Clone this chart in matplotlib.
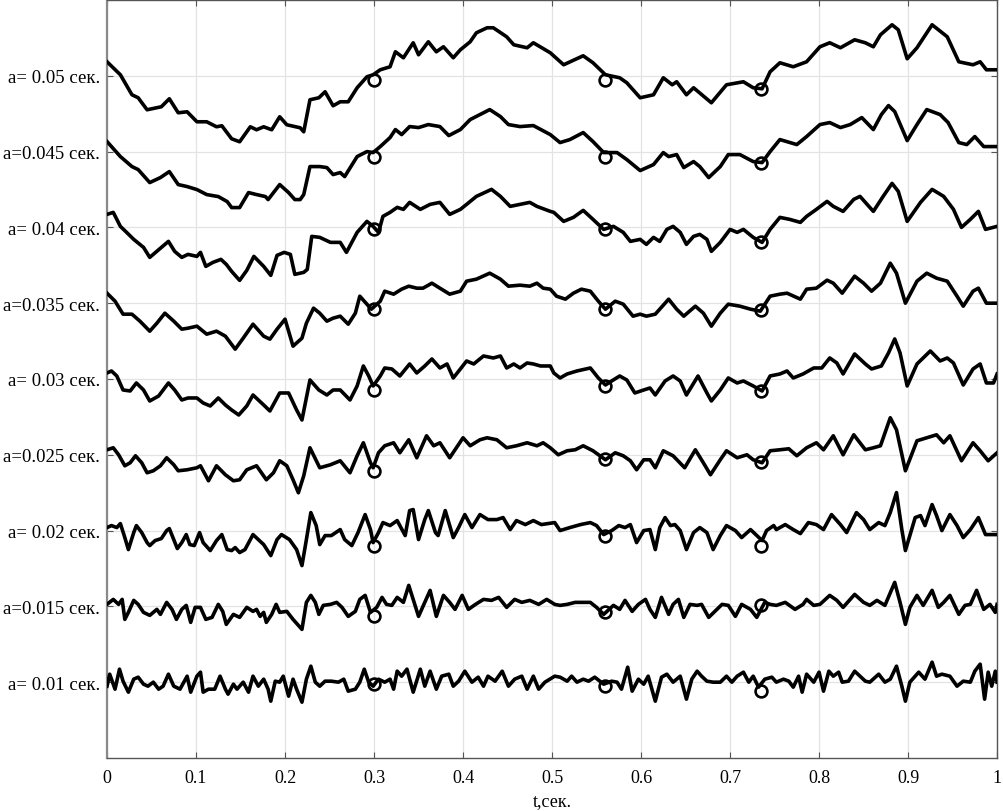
import numpy as np
import matplotlib.pyplot as plt

# Traces: time (s) and deflection from the trace baseline
# (amplitude units; 76 units = spacing between neighbouring traces)

t_005 = [0.0, 0.015, 0.028, 0.035, 0.045, 0.061, 0.070, 0.080, 0.090, 0.101,
         0.112, 0.123, 0.129, 0.140, 0.149, 0.161, 0.168, 0.176, 0.185, 0.194,
         0.202, 0.217, 0.221, 0.228, 0.238, 0.245, 0.254, 0.262, 0.271, 0.281,
         0.292, 0.299, 0.307, 0.318, 0.324, 0.333, 0.344, 0.350, 0.361, 0.370,
         0.378, 0.389, 0.397, 0.408, 0.415, 0.427, 0.434, 0.449, 0.457, 0.472,
         0.479, 0.498, 0.513, 0.535, 0.546, 0.560, 0.576, 0.584, 0.599, 0.614,
         0.625, 0.635, 0.640, 0.651, 0.659, 0.679, 0.696, 0.715, 0.726, 0.736,
         0.745, 0.756, 0.771, 0.786, 0.801, 0.812, 0.824, 0.840, 0.852, 0.861,
         0.869, 0.882, 0.889, 0.899, 0.910, 0.927, 0.944, 0.957, 0.973, 0.981,
         0.988, 1.0]
v_005 = [14, 1, -19, -22, -34, -31, -23, -37, -36, -46,
         -46, -51, -50, -63, -66, -51, -54, -51, -54, -41,
         -49, -52, -56, -24, -22, -16, -30, -26, -26, -12,
         -1, 1, 6, 9, 24, 18, 33, 21, 34, 24,
         29, 18, 26, 34, 43, 48, 48, 39, 31, 28,
         33, 23, 11, 20, 13, 1, -2, -7, -22, -19,
         -2, -9, -6, -19, -12, -27, -9, -6, -12, -13,
         4, 13, 9, 14, 29, 33, 28, 36, 33, 29,
         41, 51, 46, 17, 28, 51, 39, 14, 11, 14,
         6, 6]

t_0045 = [0.0, 0.015, 0.028, 0.035, 0.048, 0.060, 0.070, 0.080, 0.090, 0.101,
          0.112, 0.125, 0.135, 0.140, 0.149, 0.159, 0.168, 0.178, 0.181, 0.194,
          0.204, 0.211, 0.217, 0.221, 0.228, 0.239, 0.247, 0.254, 0.262, 0.267,
          0.281, 0.292, 0.299, 0.307, 0.318, 0.324, 0.331, 0.340, 0.350, 0.361,
          0.374, 0.384, 0.397, 0.408, 0.419, 0.430, 0.442, 0.451, 0.464, 0.479,
          0.498, 0.509, 0.520, 0.535, 0.546, 0.558, 0.573, 0.584, 0.599, 0.614,
          0.625, 0.631, 0.640, 0.648, 0.659, 0.666, 0.676, 0.689, 0.698, 0.711,
          0.726, 0.736, 0.745, 0.756, 0.775, 0.786, 0.801, 0.812, 0.824, 0.835,
          0.848, 0.861, 0.870, 0.878, 0.885, 0.899, 0.910, 0.921, 0.936, 0.945,
          0.957, 0.966, 0.975, 0.985, 1.0]
v_0045 = [10, -5, -15, -18, -31, -26, -20, -33, -35, -38,
          -43, -45, -50, -56, -56, -41, -43, -45, -48, -33,
          -41, -48, -48, -43, -15, -15, -16, -23, -21, -25,
          -5, 0, -1, 5, 14, 22, 17, 25, 24, 27,
          25, 16, 22, 32, 37, 42, 35, 27, 25, 26,
          17, 9, 12, 19, 10, -1, -1, -8, -19, -13,
          -1, -5, -3, -16, -10, -15, -26, -15, -3, -3,
          -10, -11, 0, 12, 7, 15, 27, 29, 24, 27,
          34, 22, 37, 46, 40, 11, 27, 42, 37, 29,
          9, 7, 15, 5, 5]

t_004 = [0.0, 0.007, 0.015, 0.022, 0.030, 0.041, 0.048, 0.069, 0.076, 0.084,
         0.091, 0.101, 0.105, 0.111, 0.119, 0.128, 0.134, 0.140, 0.149, 0.157,
         0.165, 0.176, 0.184, 0.191, 0.199, 0.206, 0.211, 0.221, 0.225, 0.230,
         0.239, 0.251, 0.262, 0.269, 0.281, 0.292, 0.299, 0.305, 0.310, 0.318,
         0.326, 0.333, 0.340, 0.352, 0.363, 0.374, 0.385, 0.397, 0.404, 0.415,
         0.432, 0.442, 0.453, 0.464, 0.475, 0.483, 0.498, 0.502, 0.513, 0.524,
         0.535, 0.546, 0.558, 0.569, 0.580, 0.588, 0.599, 0.606, 0.614, 0.621,
         0.629, 0.636, 0.644, 0.651, 0.659, 0.666, 0.674, 0.679, 0.689, 0.700,
         0.708, 0.715, 0.726, 0.736, 0.745, 0.756, 0.767, 0.779, 0.786, 0.797,
         0.809, 0.816, 0.827, 0.839, 0.846, 0.861, 0.872, 0.882, 0.889, 0.899,
         0.914, 0.927, 0.940, 0.951, 0.960, 0.970, 0.979, 0.987, 1.0]
v_004 = [13, 15, 1, -5, -12, -20, -30, -14, -24, -30,
         -27, -29, -25, -39, -35, -32, -37, -44, -53, -43,
         -29, -39, -48, -28, -25, -27, -47, -45, -42, -9,
         -10, -15, -15, -25, -5, 6, 1, -5, 11, 15,
         20, 18, 25, 18, 23, 25, 13, 18, 23, 31,
         38, 31, 21, 23, 25, 21, 16, 15, 6, 10,
         17, 8, -2, 1, -5, -14, -12, -17, -10, -14,
         -2, 1, -5, -17, -9, -7, -12, -24, -15, -2,
         -5, -2, -10, -15, -2, 10, 8, 5, 11, 18,
         26, 21, 16, 28, 31, 16, 31, 44, 36, 6,
         25, 38, 31, 18, 0, 8, 16, -2, 1]

t_0035 = [0.0, 0.009, 0.018, 0.028, 0.037, 0.048, 0.056, 0.065, 0.075, 0.084,
          0.091, 0.101, 0.112, 0.123, 0.133, 0.144, 0.153, 0.164, 0.176, 0.183,
          0.191, 0.200, 0.209, 0.219, 0.224, 0.232, 0.239, 0.247, 0.254, 0.262,
          0.271, 0.279, 0.284, 0.292, 0.297, 0.307, 0.312, 0.322, 0.331, 0.339,
          0.348, 0.355, 0.365, 0.374, 0.385, 0.397, 0.404, 0.415, 0.430, 0.442,
          0.451, 0.464, 0.475, 0.483, 0.490, 0.498, 0.505, 0.515, 0.524, 0.533,
          0.543, 0.552, 0.560, 0.571, 0.580, 0.591, 0.599, 0.606, 0.616, 0.631,
          0.640, 0.648, 0.661, 0.670, 0.679, 0.689, 0.698, 0.711, 0.723, 0.734,
          0.745, 0.756, 0.764, 0.779, 0.786, 0.797, 0.809, 0.816, 0.826, 0.840,
          0.850, 0.859, 0.869, 0.880, 0.887, 0.897, 0.910, 0.921, 0.932, 0.944,
          0.955, 0.962, 0.973, 0.979, 0.988, 1.0]
v_0035 = [10, 2, -11, -11, -18, -28, -20, -10, -18, -26,
          -25, -23, -31, -28, -33, -46, -35, -21, -33, -36,
          -26, -16, -43, -35, -20, -5, -10, -18, -15, -13,
          -21, -10, 7, -1, -6, 2, 12, 9, 14, 17,
          15, 15, 20, 15, 9, 12, 22, 24, 30, 24,
          17, 18, 17, 20, 15, 14, 7, 4, 10, 14,
          12, 2, -6, 2, -1, -13, -11, -13, -11, 4,
          -6, -13, -3, -10, -23, -10, -1, -3, -6, -8,
          7, 9, 10, 4, 14, 15, 23, 20, 10, 27,
          20, 12, 20, 40, 30, 0, 22, 30, 25, 22,
          7, -3, 12, 15, 0, 0]

t_003 = [0.0, 0.005, 0.011, 0.018, 0.026, 0.033, 0.041, 0.048, 0.058, 0.069,
         0.076, 0.084, 0.091, 0.101, 0.108, 0.116, 0.125, 0.133, 0.140, 0.148,
         0.157, 0.164, 0.176, 0.183, 0.194, 0.204, 0.213, 0.219, 0.228, 0.238,
         0.247, 0.254, 0.262, 0.273, 0.281, 0.288, 0.294, 0.299, 0.307, 0.312,
         0.320, 0.329, 0.340, 0.348, 0.357, 0.365, 0.374, 0.382, 0.389, 0.397,
         0.404, 0.412, 0.423, 0.434, 0.442, 0.449, 0.457, 0.464, 0.472, 0.479,
         0.487, 0.498, 0.502, 0.509, 0.517, 0.528, 0.543, 0.552, 0.560, 0.567,
         0.576, 0.584, 0.593, 0.603, 0.610, 0.616, 0.627, 0.636, 0.644, 0.651,
         0.664, 0.674, 0.679, 0.689, 0.698, 0.708, 0.715, 0.726, 0.736, 0.745,
         0.756, 0.764, 0.771, 0.782, 0.794, 0.803, 0.812, 0.820, 0.827, 0.840,
         0.852, 0.859, 0.870, 0.878, 0.885, 0.891, 0.899, 0.910, 0.925, 0.936,
         0.944, 0.951, 0.962, 0.973, 0.981, 0.988, 0.996, 1.0]
v_003 = [6, 8, 3, -11, -12, -4, -11, -22, -17, -4,
         -11, -21, -19, -19, -24, -27, -19, -26, -31, -36,
         -27, -16, -26, -32, -14, -14, -31, -41, -1, -11,
         -16, -11, -11, -21, -7, 13, 3, -7, 3, 11,
         10, 3, 15, 6, 13, 20, 11, 15, 1, 10,
         18, 15, 23, 21, 23, 11, 15, 11, 16, 15,
         13, 13, 6, 1, 5, 8, 11, 1, -6, -2,
         3, -1, -14, -11, -9, -16, -2, 3, -2, -16,
         3, -14, -22, -11, 1, -4, -2, -7, -12, 3,
         5, 8, 1, 5, 11, 11, 21, 16, 5, 25,
         15, 10, 13, 26, 40, 26, -7, 15, 28, 18,
         21, 16, -6, 10, 15, -4, -4, 5]

t_0025 = [0.0, 0.007, 0.013, 0.020, 0.026, 0.032, 0.039, 0.045, 0.052, 0.060,
          0.067, 0.075, 0.080, 0.090, 0.101, 0.105, 0.114, 0.123, 0.133, 0.142,
          0.149, 0.157, 0.168, 0.179, 0.187, 0.194, 0.202, 0.209, 0.215, 0.221,
          0.228, 0.239, 0.251, 0.262, 0.273, 0.281, 0.288, 0.296, 0.299, 0.305,
          0.312, 0.322, 0.329, 0.339, 0.348, 0.359, 0.367, 0.374, 0.385, 0.400,
          0.408, 0.419, 0.427, 0.438, 0.449, 0.460, 0.472, 0.483, 0.490, 0.498,
          0.507, 0.517, 0.526, 0.535, 0.546, 0.560, 0.571, 0.580, 0.588, 0.595,
          0.603, 0.610, 0.616, 0.625, 0.636, 0.649, 0.661, 0.670, 0.678, 0.689,
          0.696, 0.708, 0.719, 0.726, 0.736, 0.745, 0.756, 0.766, 0.775, 0.786,
          0.797, 0.805, 0.816, 0.827, 0.839, 0.852, 0.861, 0.869, 0.880, 0.887,
          0.897, 0.910, 0.921, 0.932, 0.940, 0.947, 0.960, 0.973, 0.981, 0.990,
          1.0]
v_0025 = [5, 7, 0, -11, -8, -1, -8, -18, -16, -11,
          -3, -10, -16, -15, -13, -11, -26, -11, -20, -26,
          -25, -15, -11, -25, -18, -6, -11, -25, -38, -21,
          7, -13, -10, -6, -18, -1, 12, -8, -13, 2,
          9, 12, 2, 15, -3, 19, 9, 12, -3, 17,
          9, 15, 17, 15, 7, 9, 12, 9, 12, 7,
          0, 4, 5, 9, 4, -5, 2, -1, -6, -15,
          -5, -5, -13, 4, -1, -13, 5, -8, -20, -5,
          4, -3, 0, -5, -8, 4, 5, 6, -1, 7,
          12, 5, 19, 0, 20, 5, 7, 9, 37, 25,
          -16, 14, 17, 20, 12, 19, -6, 12, 4, -6,
          2]

t_002 = [0.0, 0.005, 0.011, 0.015, 0.020, 0.024, 0.030, 0.033, 0.039, 0.045,
         0.048, 0.054, 0.061, 0.067, 0.070, 0.075, 0.079, 0.084, 0.089, 0.093,
         0.098, 0.104, 0.108, 0.116, 0.123, 0.129, 0.135, 0.140, 0.144, 0.149,
         0.155, 0.164, 0.170, 0.176, 0.184, 0.191, 0.196, 0.205, 0.213, 0.219,
         0.224, 0.229, 0.235, 0.239, 0.245, 0.252, 0.262, 0.267, 0.275, 0.282,
         0.290, 0.296, 0.299, 0.305, 0.310, 0.318, 0.326, 0.335, 0.340, 0.344,
         0.350, 0.357, 0.361, 0.369, 0.372, 0.380, 0.389, 0.395, 0.402, 0.410,
         0.419, 0.428, 0.438, 0.445, 0.453, 0.460, 0.470, 0.479, 0.488, 0.503,
         0.509, 0.520, 0.532, 0.543, 0.550, 0.558, 0.567, 0.575, 0.582, 0.588,
         0.595, 0.603, 0.610, 0.616, 0.621, 0.627, 0.633, 0.638, 0.644, 0.651,
         0.659, 0.666, 0.674, 0.681, 0.689, 0.696, 0.706, 0.713, 0.723, 0.730,
         0.736, 0.741, 0.749, 0.752, 0.762, 0.771, 0.779, 0.788, 0.797, 0.805,
         0.814, 0.824, 0.831, 0.842, 0.850, 0.857, 0.867, 0.874, 0.880, 0.887,
         0.893, 0.897, 0.902, 0.908, 0.914, 0.919, 0.927, 0.932, 0.938, 0.947,
         0.955, 0.962, 0.970, 0.979, 0.987, 1.0]
v_002 = [3, 5, 3, 7, -7, -19, -2, 5, -2, -12,
         -15, -10, -8, 0, 2, -9, -18, -12, -4, -14,
         -15, -2, -12, -20, -10, -4, -19, -20, -17, -22,
         -19, -4, -9, -14, -25, -9, -4, -9, -19, -35,
         -9, 18, 5, -14, -5, -5, 1, -9, -15, -2,
         16, 1, -12, -2, 8, 5, 10, -5, 20, 21,
         -9, 11, 20, -2, -5, 20, -7, 3, 16, 3,
         16, 11, 11, 13, 1, 10, 6, 10, 6, 8,
         0, 3, 6, 8, 5, -4, 0, 5, 3, 6,
         -12, 0, 1, -19, 3, 13, 5, 6, 0, -19,
         -2, 3, -2, -19, -5, 5, 0, -7, 1, -5,
         -10, 0, 5, 1, 6, 1, -3, 8, 6, 1,
         16, 6, -2, 18, 11, 1, 8, 5, 18, 38,
         1, -20, -5, 13, 15, 5, 26, 15, 0, 16,
         5, -7, 1, 13, -4, -4]

t_0015 = [0.0, 0.007, 0.013, 0.017, 0.020, 0.024, 0.030, 0.035, 0.041, 0.048,
          0.056, 0.060, 0.067, 0.073, 0.078, 0.084, 0.089, 0.094, 0.099, 0.105,
          0.111, 0.118, 0.125, 0.130, 0.134, 0.142, 0.149, 0.157, 0.164, 0.168,
          0.172, 0.176, 0.179, 0.185, 0.190, 0.194, 0.202, 0.209, 0.219, 0.224,
          0.229, 0.234, 0.238, 0.243, 0.251, 0.258, 0.264, 0.271, 0.279, 0.284,
          0.290, 0.296, 0.303, 0.309, 0.314, 0.320, 0.326, 0.333, 0.339, 0.344,
          0.350, 0.357, 0.363, 0.370, 0.378, 0.385, 0.391, 0.399, 0.406, 0.414,
          0.423, 0.432, 0.440, 0.449, 0.458, 0.466, 0.475, 0.485, 0.494, 0.503,
          0.509, 0.517, 0.526, 0.535, 0.543, 0.550, 0.558, 0.569, 0.576, 0.582,
          0.590, 0.597, 0.605, 0.610, 0.616, 0.623, 0.631, 0.636, 0.642, 0.648,
          0.655, 0.663, 0.668, 0.676, 0.683, 0.691, 0.698, 0.706, 0.713, 0.723,
          0.730, 0.739, 0.745, 0.752, 0.762, 0.773, 0.782, 0.786, 0.794, 0.801,
          0.812, 0.820, 0.827, 0.840, 0.850, 0.857, 0.865, 0.874, 0.885, 0.891,
          0.897, 0.902, 0.910, 0.917, 0.927, 0.934, 0.940, 0.947, 0.957, 0.964,
          0.970, 0.977, 0.985, 0.992, 0.998, 1.0]
v_0015 = [2, 7, 2, 7, -13, -6, 6, 2, -6, -9,
          -3, -8, 4, -3, -13, -3, 1, -16, -1, -1,
          -13, -11, 2, -5, -18, -8, -11, -1, -5, -3,
          -10, -6, -16, -8, 2, -6, -5, -13, -23, 4,
          11, 4, -8, 1, 2, 4, -1, -10, -5, 7,
          11, -6, -1, 9, 2, 1, 9, 4, 21, 7,
          -10, 4, 16, -10, 11, 4, -3, 11, -3, 2,
          7, 6, 9, -1, 7, 4, 6, 2, 7, 2,
          1, 2, 4, 4, 4, -1, -8, 1, -3, 6,
          -5, 2, 7, -3, -11, 9, -8, 2, 7, -11,
          2, 1, 2, -11, -5, 2, 1, -10, 2, -3,
          -11, 4, 2, 1, 4, -3, 2, 7, 1, 2,
          11, 6, -1, 12, 4, 1, 6, 1, 24, 4,
          -18, -1, 11, 1, 16, -1, 4, 11, -8, 1,
          2, 16, -3, 2, -6, 2]

t_001 = [0.0, 0.003, 0.009, 0.014, 0.018, 0.024, 0.030, 0.035, 0.041, 0.046,
         0.052, 0.058, 0.063, 0.069, 0.075, 0.082, 0.090, 0.094, 0.101, 0.105,
         0.108, 0.114, 0.121, 0.127, 0.133, 0.136, 0.142, 0.146, 0.153, 0.159,
         0.164, 0.170, 0.176, 0.181, 0.184, 0.189, 0.194, 0.198, 0.204, 0.209,
         0.213, 0.219, 0.224, 0.229, 0.234, 0.239, 0.245, 0.252, 0.260, 0.266,
         0.271, 0.279, 0.284, 0.289, 0.294, 0.299, 0.305, 0.312, 0.318, 0.322,
         0.326, 0.331, 0.337, 0.344, 0.352, 0.357, 0.363, 0.370, 0.376, 0.384,
         0.389, 0.395, 0.402, 0.410, 0.417, 0.423, 0.428, 0.436, 0.444, 0.451,
         0.458, 0.466, 0.472, 0.479, 0.485, 0.492, 0.503, 0.509, 0.517, 0.522,
         0.528, 0.535, 0.541, 0.548, 0.558, 0.567, 0.573, 0.578, 0.585, 0.590,
         0.597, 0.603, 0.608, 0.616, 0.623, 0.629, 0.636, 0.644, 0.651, 0.657,
         0.663, 0.668, 0.674, 0.681, 0.689, 0.696, 0.702, 0.708, 0.715, 0.721,
         0.726, 0.732, 0.739, 0.747, 0.752, 0.760, 0.766, 0.771, 0.777, 0.781,
         0.786, 0.794, 0.800, 0.805, 0.811, 0.816, 0.822, 0.826, 0.833, 0.840,
         0.846, 0.852, 0.857, 0.867, 0.874, 0.880, 0.887, 0.893, 0.897, 0.902,
         0.912, 0.919, 0.927, 0.932, 0.938, 0.947, 0.955, 0.962, 0.970, 0.975,
         0.981, 0.986, 0.990, 0.994, 0.998, 1.0]
v_001 = [-4, 8, -7, 13, 1, -10, 3, 5, -2, -4,
         0, -7, -4, 8, -4, -7, 6, -10, 6, 10,
         -10, -7, -7, 6, -7, -12, -2, -7, 0, -10,
         6, -4, 3, -7, -19, 1, 0, 6, -14, 3,
         -7, -20, 3, 16, 0, -4, 1, 1, 0, 3,
         -9, -7, 0, 13, 0, -4, 3, 0, 3, -7,
         11, 6, 13, -10, 13, -4, 11, -7, 6, 8,
         -4, 1, 11, 0, 5, -4, 6, 1, 11, -4,
         3, 6, -7, 6, -7, 0, 6, 5, 1, 6,
         0, 3, 1, 5, -2, 1, 0, -7, 15, -9,
         3, -2, 6, -19, 5, 8, 0, 6, -17, 3,
         11, 6, 1, 0, 0, 6, 0, 6, 10, 0,
         6, -5, 3, 5, 0, 3, 1, -5, 6, -10,
         8, 0, 10, -9, 11, 6, 10, 0, 1, 11,
         6, 1, 0, 8, 0, 3, 16, -4, -19, 0,
         10, 3, 20, 6, 8, 6, -4, 1, 0, 11,
         18, -17, 10, -4, 11, 0]

# circle marks on every trace
mark_t = [0.3, 0.56, 0.735]
mark_005 = [-4, -4, -13]
mark_0045 = [-5, -5, -11]
mark_004 = [-2, -2, -15]
mark_0035 = [-6, -6, -7]
mark_003 = [-11, -7, -12]
mark_0025 = [-16, -4, -7]
mark_002 = [-15, -5, -15]
mark_0015 = [-10, -6, 1]
mark_001 = [-2, -4, -9]

trace_labels = ['a= 0.05 сек.', 'a=0.045 сек.', 'a= 0.04 сек.', 'a=0.035 сек.',
                'a= 0.03 сек.', 'a=0.025 сек.', 'a= 0.02 сек.', 'a=0.015 сек.',
                'a= 0.01 сек.']
x_ticks = [0, 0.1, 0.2, 0.3, 0.4, 0.5, 0.6, 0.7, 0.8, 0.9, 1]
x_ticklabels = ['0', '0.1', '0.2', '0.3', '0.4', '0.5', '0.6', '0.7', '0.8', '0.9', '1']

traces = [(t_005, v_005, mark_005), (t_0045, v_0045, mark_0045),
          (t_004, v_004, mark_004), (t_0035, v_0035, mark_0035),
          (t_003, v_003, mark_003), (t_0025, v_0025, mark_0025),
          (t_002, v_002, mark_002), (t_0015, v_0015, mark_0015),
          (t_001, v_001, mark_001)]

plt.rcParams['font.family'] = ['Liberation Serif', 'DejaVu Serif']
gain = 75.8  # amplitude units per trace spacing

fig = plt.figure(figsize=(10.04, 8.12), dpi=100)
ax = fig.add_axes([0.1066, 0.0653, 0.8865, 0.9335])

n = len(traces)
for i, (t, v, mk) in enumerate(traces):
    level = n - i
    ax.plot(t, level + np.array(v) / gain, color='black', lw=2.6,
            solid_joinstyle='round', zorder=3)
    ax.plot(mark_t, level + np.array(mk) / gain, 'o', mfc='none', mec='black',
            ms=8.5, mew=1.9, zorder=4)

ax.set_xlim(0, 1)
ax.set_ylim(0, 10)
ax.set_xticks(x_ticks)
ax.set_xticklabels(x_ticklabels, fontsize=13)
ax.set_yticks(range(n, 0, -1))
ax.set_yticklabels(trace_labels, fontsize=13.5)
ax.set_xlabel('t,сек.', fontsize=13, labelpad=4)

ax.tick_params(direction='in', top=True, right=True, length=4, width=0.8,
               color='#555555')
ax.tick_params(axis='x', pad=8)
ax.tick_params(axis='y', pad=5)
ax.grid(True, color='#e3e3e3', lw=0.9)
ax.set_axisbelow(True)
for s in ax.spines.values():
    s.set_color('#555555')
    s.set_linewidth(1.0)
ax.spines['left'].set_color('#8a8a8a')
ax.spines['left'].set_linewidth(1.6)

fig.savefig('out.png', dpi=100)
